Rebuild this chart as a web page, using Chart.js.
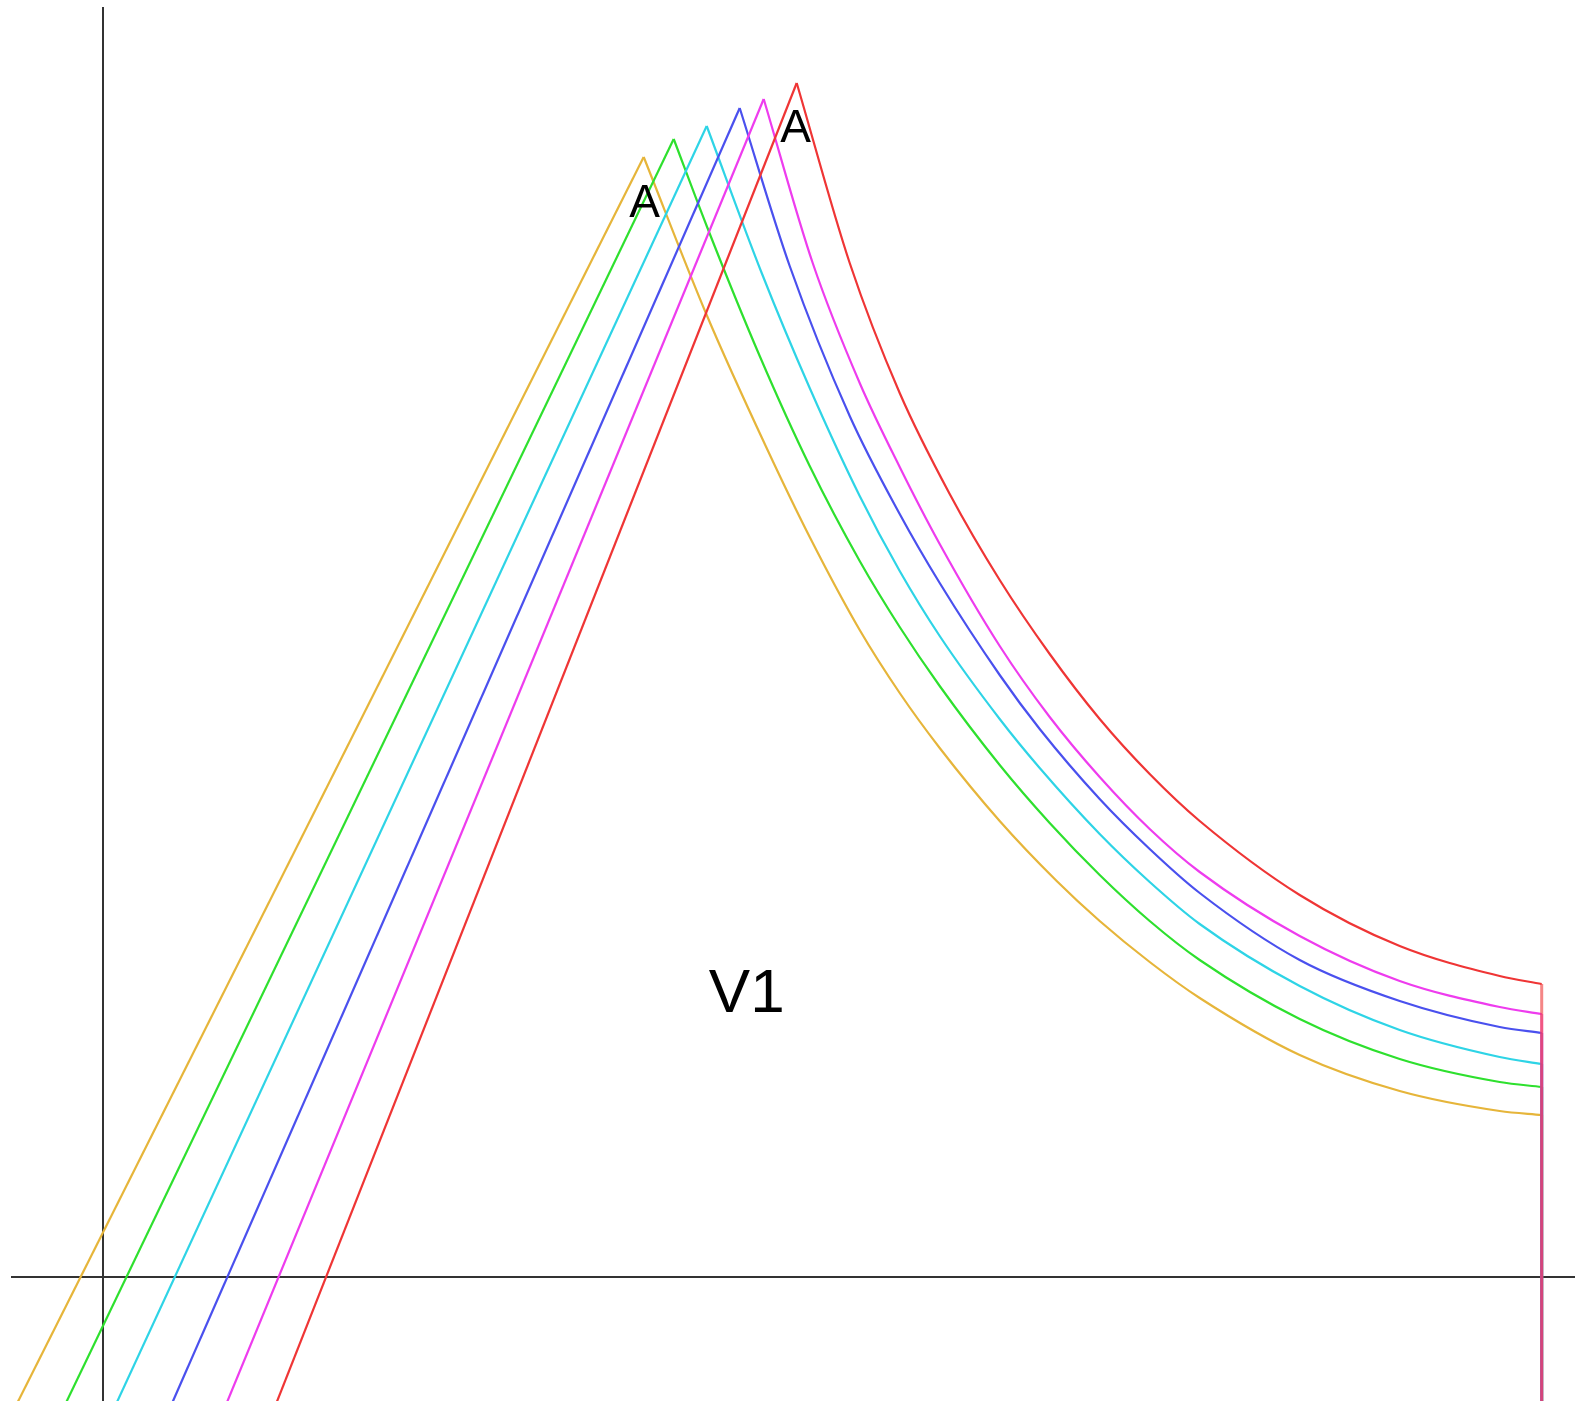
<!DOCTYPE html>
<html>
<head>
<meta charset="utf-8">
<script src="https://cdn.jsdelivr.net/npm/chart.js@4.4.1/dist/chart.umd.min.js"></script>
<style>
    html, body { margin: 0; padding: 0; background: #fff; }
    #wrap { width: 1575px; height: 1401px; }
</style>
</head>
<body>
<div id="wrap"><canvas id="chart"></canvas></div>
<script>
// 曲线数据 (orange, green, cyan, blue, magenta, red)
const seriesNames = ['orange', 'green', 'cyan', 'blue', 'magenta', 'red'];
const footX = [-0.94, -0.45, 0.06, 0.62, 1.17, 1.67];
const footY = -1.43;
const peakX = [5.41, 5.71, 6.04, 6.37, 6.61, 6.94];
const peakY = [11.20, 11.38, 11.51, 11.69, 11.78, 11.94];
const endX = 14.39;

const orangeFallX = [6.04, 6.63, 7.07, 7.57, 7.97, 8.37, 8.97, 9.54, 9.97, 10.47, 10.97, 11.97, 12.97, 13.97, 14.39];
const orangeFallY = [9.62, 8.31, 7.40, 6.47, 5.84, 5.29, 4.56, 3.96, 3.56, 3.15, 2.79, 2.22, 1.86, 1.66, 1.62];
const greenFallX = [6.04, 6.57, 7.07, 7.57, 7.97, 8.37, 8.97, 9.47, 9.97, 10.47, 10.97, 11.97, 12.97, 13.97, 14.39];
const greenFallY = [10.51, 9.21, 8.11, 7.16, 6.50, 5.91, 5.12, 4.54, 4.02, 3.56, 3.17, 2.58, 2.18, 1.95, 1.90];
const cyanFallX = [6.59, 7.07, 7.57, 7.97, 8.37, 8.97, 9.37, 9.97, 10.47, 10.97, 11.97, 12.97, 13.97, 14.39];
const cyanFallY = [10.04, 8.89, 7.81, 7.06, 6.41, 5.58, 5.09, 4.43, 3.95, 3.53, 2.91, 2.47, 2.20, 2.13];
const blueFallX = [6.87, 7.47, 7.97, 8.37, 8.97, 9.37, 9.97, 10.47, 10.97, 11.97, 12.97, 13.97, 14.39];
const blueFallY = [10.11, 8.61, 7.63, 6.94, 6.02, 5.48, 4.78, 4.28, 3.84, 3.17, 2.76, 2.50, 2.44];
const magentaFallX = [7.10, 7.57, 7.97, 8.37, 8.97, 9.47, 9.97, 10.47, 10.97, 11.97, 12.97, 13.97, 14.39];
const magentaFallY = [10.14, 8.94, 8.10, 7.33, 6.31, 5.60, 5.00, 4.48, 4.05, 3.41, 2.96, 2.70, 2.63];
const redFallX = [7.47, 7.97, 8.47, 8.97, 9.47, 9.97, 10.47, 10.97, 11.97, 12.97, 13.97, 14.39];
const redFallY = [10.14, 8.84, 7.83, 6.97, 6.23, 5.58, 5.03, 4.56, 3.82, 3.31, 3.01, 2.93];

// 文字标注
const labelText = ['A', 'A', 'V1'];
const labelX = [5.42, 6.93, 6.44];
const labelY = [10.73, 11.48, 2.82];

const fallX = [orangeFallX, greenFallX, cyanFallX, blueFallX, magentaFallX, redFallX];
const fallY = [orangeFallY, greenFallY, cyanFallY, blueFallY, magentaFallY, redFallY];
const lineColors = ['#e6b53a', '#2ee02e', '#2ed4e6', '#4a50ee', '#ee3cee', '#ef3535'];
// 末端竖线叠在一起, 用半透明色混出暗红
const dropColors = ['rgba(230,181,58,0.6)', 'rgba(46,224,46,0.6)', 'rgba(46,212,230,0.6)',
                    'rgba(74,80,238,0.6)', 'rgba(238,60,238,0.6)', 'rgba(239,53,53,0.6)'];

const toPoints = (xs, ys) => xs.map((x, i) => ({ x: x, y: ys[i] }));

// Chart.js 先画后面的数据集, 红色放最前面让它在最上层
const datasets = [];
for (let i = seriesNames.length - 1; i >= 0; i--) {
    const base = {
        borderColor: lineColors[i],
        borderWidth: 2.2,
        pointRadius: 0,
        showLine: true,
        fill: false
    };
    // 上升段
    datasets.push(Object.assign({}, base, {
        label: seriesNames[i] + '-rise',
        data: toPoints([footX[i], peakX[i]], [footY, peakY[i]])
    }));
    // 下降段
    datasets.push(Object.assign({}, base, {
        label: seriesNames[i] + '-fall',
        data: toPoints([peakX[i]].concat(fallX[i]), [peakY[i]].concat(fallY[i])),
        cubicInterpolationMode: 'monotone'
    }));
    // 末端竖线
    const lastY = fallY[i][fallY[i].length - 1];
    datasets.push(Object.assign({}, base, {
        label: seriesNames[i] + '-drop',
        borderColor: dropColors[i],
        borderWidth: 3,
        data: toPoints([endX, endX], [lastY, footY])
    }));
}

// 文字绘制插件
const labelPlugin = {
    id: 'labels',
    afterDatasetsDraw(chart) {
        const ctx = chart.ctx;
        const xs = chart.scales.x, ys = chart.scales.y;
        ctx.save();
        ctx.fillStyle = '#000';
        ctx.textAlign = 'center';
        ctx.textBaseline = 'middle';
        labelText.forEach((t, i) => {
            ctx.font = (t === 'V1' ? 62 : 46) + 'px "Liberation Sans", Arial, sans-serif';
            ctx.fillText(t, xs.getPixelForValue(labelX[i]), ys.getPixelForValue(labelY[i]));
        });
        ctx.restore();
    }
};

const zeroAxis = {
    display: true,
    grid: {
        drawTicks: false,
        color: '#333',
        lineWidth: 2
    },
    border: { display: false },
    ticks: { display: false },
    afterBuildTicks: axis => { axis.ticks = [{ value: 0 }]; }
};

new Chart(document.getElementById('chart').getContext('2d'), {
    type: 'scatter',
    data: { datasets: datasets },
    plugins: [labelPlugin],
    options: {
        responsive: true,
        maintainAspectRatio: false,
        animation: false,
        layout: { padding: { left: 11, top: 7, right: 0, bottom: 0 } },
        plugins: {
            legend: { display: false },
            tooltip: { enabled: false }
        },
        scales: {
            x: Object.assign({}, zeroAxis, {
                type: 'linear',
                min: -0.917,
                max: 14.723,
                afterFit: axis => { axis.height = 0; }
            }),
            y: Object.assign({}, zeroAxis, {
                type: 'linear',
                min: -1.24,
                max: 12.70,
                afterFit: axis => { axis.width = 0; }
            })
        }
    }
});
</script>
</body>
</html>
